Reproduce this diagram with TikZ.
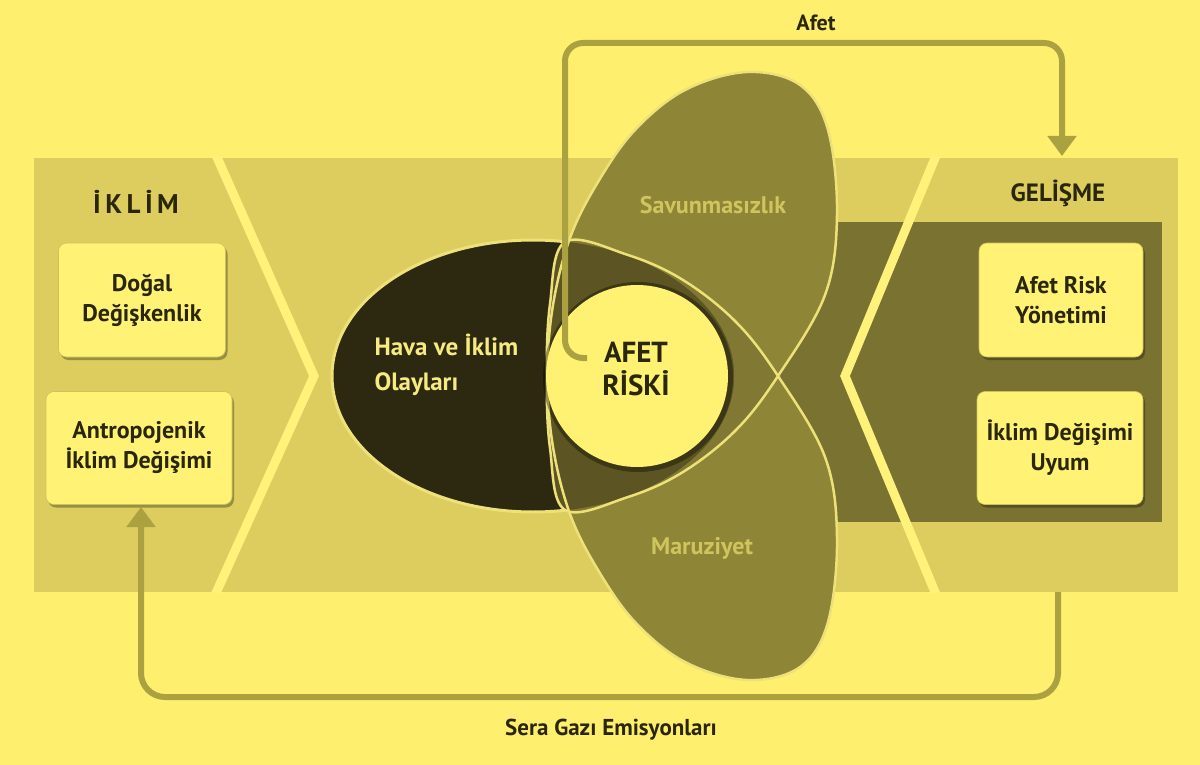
\documentclass[tikz,border=0pt]{standalone}
\usepackage{fontspec}
\setmainfont{PT Sans}
\usetikzlibrary{arrows.meta,shadows}
\definecolor{bgc}{HTML}{FFEF6E}
\definecolor{bandc}{HTML}{DCCD5E}
\definecolor{darkrectc}{HTML}{7A7230}
\definecolor{savc}{HTML}{8E8537}
\definecolor{lensc}{HTML}{807833}
\definecolor{darkovc}{HTML}{5C5523}
\definecolor{darkellc}{HTML}{2D2911}
\definecolor{outlc}{HTML}{EEE17A}
\definecolor{chevc}{HTML}{FFF27A}
\definecolor{circc}{HTML}{FFF171}
\definecolor{boxc}{HTML}{FFF274}
\definecolor{textc}{HTML}{2A2609}
\definecolor{arrowc}{HTML}{ACA141}
\definecolor{savtextc}{HTML}{CFC45E}
\definecolor{havatextc}{HTML}{F6EA80}
\newcommand{\SavShape}{plot[smooth cycle, tension=0.6] coordinates {(565,510) (550,448) (547,376) (553,305) (570,238) (598,182) (635,130) (685,90) (747,72) (800,85) (828,130) (837,215) (825,295) (778,376) (736,430) (683,472) (628,497)}}
\newcommand{\MaruShape}{plot[smooth cycle, tension=0.6] coordinates {(565,242) (550,304) (547,376) (553,447) (570,514) (598,570) (635,622) (685,662) (747,680) (800,667) (828,622) (837,537) (825,457) (778,376) (736,322) (683,280) (628,255)}}
\newcommand{\DarkShape}{(533,376) ellipse [x radius=201pt, y radius=136pt]}
\tikzset{
  chevline/.style={chevc, line width=9pt},
  outline/.style={outlc, line width=2.5pt},
  boxnode/.style={fill=boxc, draw=boxc!80!black, line width=0.6pt, rounded corners=8pt, align=center,
    text=textc, inner sep=0pt, font=\fontsize{24}{30}\selectfont\bfseries,
    drop shadow={shadow xshift=2pt, shadow yshift=-3pt, fill=black, opacity=0.3}},
  titlenode/.style={text=textc, font=\fontsize{27}{30}\selectfont\bfseries},
  lblnode/.style={text=textc, font=\fontsize{22}{26}\selectfont\bfseries},
  softlbl/.style={text=savtextc, font=\fontsize{24}{28}\selectfont\bfseries},
  arr/.style={arrowc, line width=6pt, -{Triangle[width=28pt,length=20pt]}},
}
\begin{document}
\begin{tikzpicture}[x=1pt,y=-1pt]
\useasboundingbox (0,0) rectangle (1200,765);
\fill[bgc] (0,0) rectangle (1200,765);
% band and inner dark panel
\fill[bandc] (34,158) rectangle (1178,592);
\fill[darkrectc] (740,222) rectangle (1162,522);
\begin{scope}
  \clip (34,158) rectangle (1178,592);
  \draw[chevline] (212,146) -- (314,376) -- (211,604);
  \draw[chevline] (940,146) -- (845,376) -- (940,604);
\end{scope}
% dark ellipse
\filldraw[fill=darkellc, draw=outlc, line width=3pt] \DarkShape;
% vulnerability and exposure shapes
\fill[savc] \SavShape;
\fill[savc] \MaruShape;
\begin{scope}
  \clip \SavShape;
  \fill[lensc] \MaruShape;
\end{scope}
\begin{scope}
  \clip \DarkShape;
  \fill[darkovc] \SavShape;
  \fill[darkovc] \MaruShape;
\end{scope}
\draw[outline] \SavShape;
\draw[outline] \MaruShape;
% central circle
\fill[black, opacity=0.35] (638,377) circle [radius=95pt];
\fill[circc] (637,376) circle [radius=91pt];
% boxes
\node[boxnode, minimum width=167pt, minimum height=114pt] (b1) at (142,300) {Doğal\\Değişkenlik};
\node[boxnode, minimum width=186pt, minimum height=113pt] (b2) at (139,448) {Antropojenik\\İklim Değişimi};
\node[boxnode, minimum width=164pt, minimum height=114pt] (b3) at (1061,300) {Afet Risk\\Yönetimi};
\node[boxnode, minimum width=166pt, minimum height=113pt] (b4) at (1060,448) {İklim Değişimi\\Uyum};
% titles
\node[titlenode] (iklim) at (136,202) {İ\,K\,L\,İ\,M};
\node[titlenode, font=\fontsize{25}{30}\selectfont\bfseries] (gelisme) at (1058,193) {GELİŞME};
% ellipse labels
\node[anchor=west, align=left, text=havatextc, font=\fontsize{25}{35}\selectfont\bfseries] (hava) at (371,365) {Hava ve İklim\\Olayları};
\node[align=center, text=textc, font=\fontsize{29}{33}\selectfont\bfseries] (risk) at (636,369) {AFET\\RİSKİ};
\node[softlbl] (sav) at (713,205) {Savunmasızlık};
\node[softlbl] (maru) at (702,548) {Maruziyet};
% arrows
\coordinate (afetstart) at (587,358);
\coordinate (afetin) at (1062,156);
\coordinate (geloutc) at (1058,592);
\coordinate (seraend) at (141,507);
\draw[arr, rounded corners=18pt] (afetstart) -- (565,358) -- (565,43) -- (1062,43) -- (afetin);
\draw[arr, rounded corners=24pt] (geloutc) -- (1058,697) -- (141,697) -- (seraend);
\node[lblnode] (afet) at (816,23) {Afet};
\node[lblnode, font=\fontsize{23}{26}\selectfont\bfseries] (sera) at (611,730) {Sera Gazı Emisyonları};
\end{tikzpicture}
\end{document}
